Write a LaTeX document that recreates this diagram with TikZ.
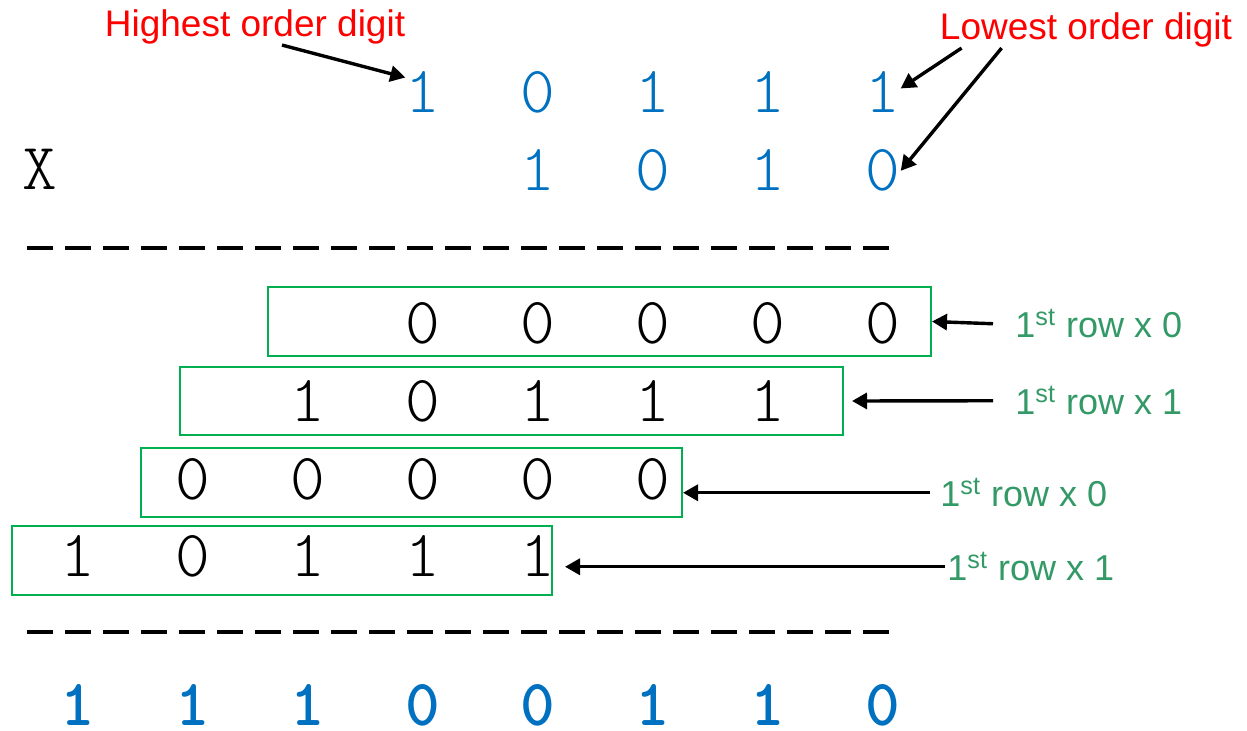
\documentclass[tikz,border=0pt]{standalone}
\usepackage{fontspec}
\setmainfont{Liberation Sans}
\newfontfamily\bitfont{Latin Modern Mono Light}
\usepackage{xcolor}
\usetikzlibrary{positioning, arrows.meta, fit}
\definecolor{bitblue}{HTML}{0070C0}
\definecolor{boxgreen}{HTML}{00B050}
\definecolor{notegreen}{HTML}{339966}
\definecolor{notered}{HTML}{FF0000}

\begin{document}
\begin{tikzpicture}[x=0.5pt,y=-0.5pt]
  \tikzset{bit/.style={font=\bitfont\fontsize{33}{33}\selectfont,inner sep=0pt,anchor=base},
    inbit/.style={bit,text=bitblue},
    sumbit/.style={bit,font=\bitfont\bfseries\fontsize{33}{33}\selectfont,text=bitblue},
    rowbox/.style={draw=boxgreen,line width=1pt,inner sep=0pt},
    rownote/.style={text=notegreen,font=\fontsize{18}{18}\selectfont,inner sep=0pt,anchor=base west},
    ordernote/.style={text=notered,font=\fontsize{18.5}{18.5}\selectfont,inner sep=0pt,anchor=base},
    pointer/.style={-{Triangle[length=7.5pt,width=8pt]},line width=1.7pt},
    sepline/.style={line width=2pt,dash pattern=on 13pt off 6pt}}
  \useasboundingbox (0,0) rectangle (1247,731);

  % multiplicand and multiplier
  \foreach \d [count=\i] in {1,0,1,1,1}
    \node[inbit] (a\i) at ({308+115*\i},113) {\d};
  \foreach \d [count=\i] in {1,0,1,0}
    \node[inbit] (b\i) at ({423+115*\i},191) {\d};
  \node[bit] (times) at (40,190) {X};
  \draw[sepline] (27,248) -- (898,248);

  % partial products
  \foreach \d [count=\i] in {0,0,0,0,0}
    \node[bit] (r\i) at ({308+115*\i},344) {\d};
  \foreach \d [count=\i] in {1,0,1,1,1}
    \node[bit] (s\i) at ({193+115*\i},422) {\d};
  \foreach \d [count=\i] in {0,0,0,0,0}
    \node[bit] (t\i) at ({78+115*\i},500) {\d};
  \foreach \d [count=\i] in {1,0,1,1,1}
    \node[bit] (u\i) at ({-37+115*\i},576) {\d};
  \node[rowbox,fit={(268,287) (931,356)}] (p1) {};
  \node[rowbox,fit={(180,367) (843,435)}] (p2) {};
  \node[rowbox,fit={(141,448) (682,517)}] (p3) {};
  \node[rowbox,fit={(12,526) (552,595)}] (p4) {};
  \draw[sepline] (27,632) -- (898,632);

  % product
  \foreach \d [count=\i] in {1,1,1,0,0,1,1,0}
    \node[sumbit] (c\i) at ({-37+115*\i},725) {\d};

  % notes
  \node[ordernote] (hi) at (255,37) {Highest order digit};
  \node[ordernote] (lo) at (1086,40) {Lowest order digit};
  \draw[pointer] ([xshift=13.5pt]hi.south) -- ([yshift=-3pt]a1.north west);
  \draw[pointer] ([xshift=11pt]lo.south west) -- ([yshift=2pt]a5.east);
  \draw[pointer] ([xshift=31pt]lo.south west) -- (b4.east);

  \node[rownote] (n1) at (1015,338) {1\textsuperscript{st} row x 0};
  \node[rownote] (n2) at (1015,415) {1\textsuperscript{st} row x 1};
  \node[rownote] (n3) at (940,507) {1\textsuperscript{st} row x 0};
  \node[rownote] (n4) at (947,581) {1\textsuperscript{st} row x 1};
  \draw[pointer] ([xshift=-11pt]n1.west) -- (p1.east);
  \draw[pointer] ([xshift=-11pt]n2.west) -- ([xshift=4pt]p2.east);
  \draw[pointer] ([xshift=-5pt]n3.west) -- (p3.east |- n3.west);
  \draw[pointer] ([xshift=-1pt]n4.west) -- ([xshift=6pt]p4.east |- n4.west);
\end{tikzpicture}
\end{document}
